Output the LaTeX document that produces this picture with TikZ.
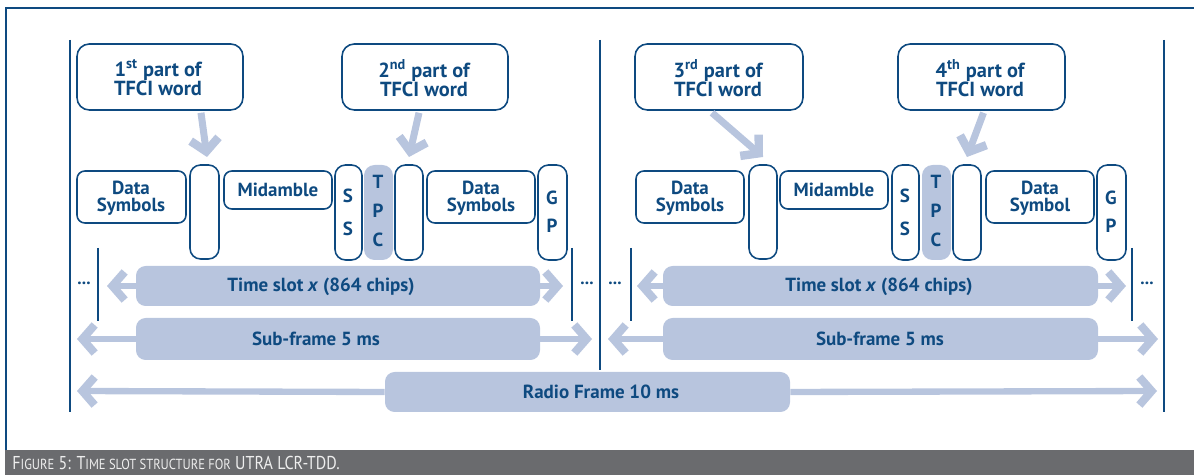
\documentclass[tikz,border=0pt]{standalone}
\usepackage{fontspec}
\setmainfont{PT Sans}
\newfontfamily\capfont{PT Sans}[FakeStretch=0.86]
\usetikzlibrary{arrows.meta,fit}
\definecolor{dblue}{RGB}{14,74,128}
\definecolor{lblue}{RGB}{184,197,222}
\definecolor{capgray}{RGB}{106,107,110}
\definecolor{captext}{RGB}{238,238,238}
\tikzset{
  cell/.style={draw=dblue, line width=0.9pt, rounded corners=4.5pt, inner sep=0pt},
  tall/.style={cell, rounded corners=6pt},
  tpc/.style={fill=lblue, rounded corners=6pt, inner sep=0pt},
  titlebox/.style={cell, rounded corners=7pt},
  ctext/.style={text=dblue, inner sep=0pt, align=center, font=\bfseries\fontsize{10.8}{9.8}\selectfont},
  ttext/.style={text=dblue, inner sep=0pt, align=center, font=\bfseries\fontsize{11.6}{11}\selectfont},
  bar/.style={fill=lblue, rounded corners=5.5pt, inner sep=0pt},
  barlbl/.style={text=dblue, font=\bfseries\fontsize{10.8}{12}\selectfont, inner sep=0pt},
  arr/.style={draw=lblue, line width=3.6pt, -{Straight Barb[length=7pt,width=16pt,line width=4.6pt]}},
  tarr/.style={draw=lblue, line width=4pt, -{Straight Barb[length=7pt,width=16pt,line width=4.8pt]}},
  vline/.style={draw=dblue, line width=0.85pt},
  dots/.style={text=dblue, font=\bfseries\fontsize{10}{10}\selectfont, inner sep=0pt},
}
\begin{document}
\begin{tikzpicture}[x=0.02cm,y=-0.02cm]
\useasboundingbox (0,0) rectangle (1194,475);
% frame and caption
\draw[dblue, line width=1.4pt] (1200,8) -- (6,8) -- (6,451);
\fill[capgray] (5,450) rectangle (1200,476);
\node[anchor=west, text=captext, inner sep=0pt, font=\capfont\fontsize{10.6}{12}\selectfont] (cap) at (12,463)
  {F{\fontsize{8.3}{10}\selectfont IGURE} 5: T{\fontsize{8.3}{10}\selectfont IME SLOT STRUCTURE FOR} UTRA LCR-TDD.};

% vertical lines
\draw[vline] (70,40) -- (70,412);
\draw[vline] (600,40) -- (600,370);
\draw[vline] (1164,40) -- (1164,412);
\draw[vline] (98,248) -- (98,321);
\draw[vline] (572,248) -- (572,321);
\draw[vline] (631,248) -- (631,321);
\draw[vline] (1132,248) -- (1132,321);

% dots
\node[dots] (dt1) at (84,283) {...};
\node[dots] (dt2) at (587,283) {...};
\node[dots] (dt3) at (615,283) {...};
\node[dots] (dt4) at (1147,283) {...};

% title boxes
\node[titlebox, fit={(77,44) (243,110)}] (t1) {};
\node[titlebox, fit={(342,44) (508,110)}] (t2) {};
\node[titlebox, fit={(635,44) (803,110)}] (t3) {};
\node[titlebox, fit={(898,44) (1065,110)}] (t4) {};
\node[ttext] (t1t) at (158,78) {1\textsuperscript{st} part of\\TFCI word};
\node[ttext] (t2t) at (424,78) {2\textsuperscript{nd} part of\\TFCI word};
\node[ttext] (t3t) at (718,78) {3\textsuperscript{rd} part of\\TFCI word};
\node[ttext] (t4t) at (980,78) {4\textsuperscript{th} part of\\TFCI word};

% slot cells, left
\node[cell, fit={(77,171) (186,223)}] (d1) {};
\node[tall, fit={(190,165) (219,259)}] (e1) {};
\node[cell, fit={(224,171) (332,209)}] (m1) {};
\node[tall, fit={(335,165) (362,260)}] (s1) {};
\node[tpc, fit={(364,165) (393,260)}] (p1) {};
\node[tall, fit={(395,165) (423,260)}] (e2) {};
\node[cell, fit={(427,171) (535,223)}] (d2) {};
\node[tall, fit={(538,165) (567,260)}] (g1) {};
% slot cells, right
\node[cell, fit={(636,171) (744,223)}] (d3) {};
\node[tall, fit={(749,165) (777,259)}] (e3) {};
\node[cell, fit={(780,171) (888,209)}] (m2) {};
\node[tall, fit={(892,165) (919,260)}] (s2) {};
\node[tpc, fit={(922,165) (951,260)}] (p2) {};
\node[tall, fit={(953,165) (981,260)}] (e4) {};
\node[cell, fit={(986,171) (1094,223)}] (d4) {};
\node[tall, fit={(1097,165) (1126,260)}] (g2) {};
% cell texts
\node[ctext] (d1t) at (131,198) {Data\\Symbols};
\node[ctext] (m1t) at (278,190) {Midamble};
\node[ctext, font=\bfseries\fontsize{10.8}{18.7}\selectfont] (s1t) at (348,212) {S\\S};
\node[ctext, font=\bfseries\fontsize{10.8}{16.7}\selectfont] (p1t) at (378,211) {T\\P\\C};
\node[ctext] (d2t) at (481,198) {Data\\Symbols};
\node[ctext, font=\bfseries\fontsize{10.8}{15.9}\selectfont] (g1t) at (552,212) {G\\P};
\node[ctext] (d3t) at (690,198) {Data\\Symbols};
\node[ctext] (m2t) at (834,190) {Midamble};
\node[ctext, font=\bfseries\fontsize{10.8}{18.7}\selectfont] (s2t) at (905,212) {S\\S};
\node[ctext, font=\bfseries\fontsize{10.8}{16.7}\selectfont] (p2t) at (936,211) {T\\P\\C};
\node[ctext] (d4t) at (1040,198) {Data\\Symbol};
\node[ctext, font=\bfseries\fontsize{10.8}{15.9}\selectfont] (g2t) at (1111,212) {G\\P};

% TFCI arrows
\coordinate (a1) at (207,157);
\coordinate (a2) at (409,157);
\coordinate (a3) at (763,157);
\coordinate (a4) at (967,157);
\draw[tarr] ([xshift=0.82cm,yshift=-0.04cm]t1.south) -- (a1);
\draw[tarr] ([xshift=-0.12cm,yshift=-0.04cm]t2.south) -- (a2);
\draw[tarr] ([xshift=-0.14cm,yshift=-0.04cm]t3.south) -- (a3);
\draw[tarr] ([xshift=0.04cm,yshift=-0.04cm]t4.south) -- (a4);

% bars
\node[bar, fit={(136,266) (540,306)}] (ts1) {};
\node[bar, fit={(663,266) (1098,306)}] (ts2) {};
\node[bar, fit={(136,318) (540,360)}] (sf1) {};
\node[bar, fit={(663,318) (1098,360)}] (sf2) {};
\node[bar, fit={(385,372) (790,412)}] (rf) {};
\node[barlbl] (ts1t) at (321,287) {Time slot \textit{x} (864 chips)};
\node[barlbl] (ts2t) at (879,287) {Time slot \textit{x} (864 chips)};
\node[barlbl] (sf1t) at (316,339) {Sub-frame 5 ms};
\node[barlbl] (sf2t) at (880,339) {Sub-frame 5 ms};
\node[barlbl] (rft) at (601,392) {Radio Frame 10 ms};

% bar arrows
\coordinate (ts1l) at (107,286); \coordinate (ts1r) at (563,286);
\coordinate (ts2l) at (637,286); \coordinate (ts2r) at (1126,286);
\coordinate (sf1l) at (77,339);  \coordinate (sf1r) at (592,339);
\coordinate (sf2l) at (608,339); \coordinate (sf2r) at (1158,339);
\coordinate (rfl) at (77,391);   \coordinate (rfr) at (1157,391);
\draw[arr] (ts1.west) -- (ts1l);  \draw[arr] (ts1.east) -- (ts1r);
\draw[arr] (ts2.west) -- (ts2l);  \draw[arr] (ts2.east) -- (ts2r);
\draw[arr] (sf1.west) -- (sf1l);  \draw[arr] (sf1.east) -- (sf1r);
\draw[arr] (sf2.west) -- (sf2l);  \draw[arr] (sf2.east) -- (sf2r);
\draw[arr] (rf.west) -- (rfl);    \draw[arr] (rf.east) -- (rfr);
\end{tikzpicture}
\end{document}
